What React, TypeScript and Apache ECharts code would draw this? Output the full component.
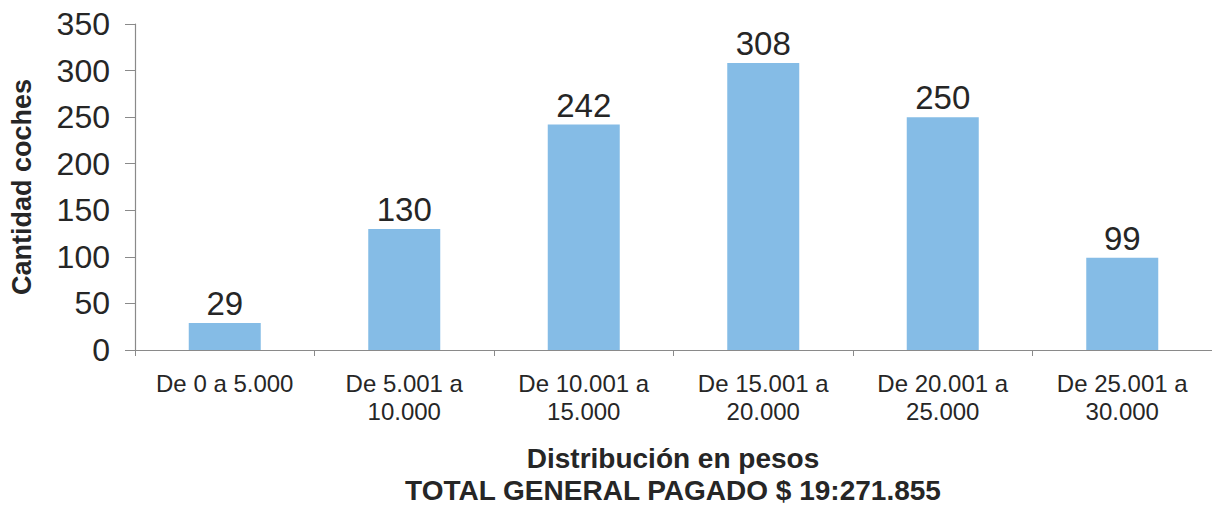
import React, { useEffect, useRef } from "react";
import * as echarts from "echarts";

const categories = [
  "De 0 a 5.000",
  "De 5.001 a\n10.000",
  "De 10.001 a\n15.000",
  "De 15.001 a\n20.000",
  "De 20.001 a\n25.000",
  "De 25.001 a\n30.000",
];
const values = [29, 130, 242, 308, 250, 99];
const yTitle = "Cantidad coches";
const xTitle = "Distribución en pesos";
const totalLine = "TOTAL GENERAL PAGADO $ 19:271.855";

const FONT = "'Liberation Sans', Arial, sans-serif";

export default function App() {
  const ref = useRef<HTMLDivElement>(null);
  useEffect(() => {
    if (!ref.current) return;
    const chart = echarts.init(ref.current, undefined, { renderer: "svg" });
    const cx = 673;
    chart.setOption({
      animation: false,
      backgroundColor: "#ffffff",
      textStyle: { fontFamily: FONT },
      grid: { left: 135, right: 0, top: 24, bottom: 167, containLabel: false },
      xAxis: {
        type: "category",
        data: categories,
        axisLine: { lineStyle: { color: "#8a8a8a", width: 1.2 } },
        axisTick: { show: true, length: 6, lineStyle: { color: "#8a8a8a" } },
        axisLabel: {
          color: "#262626",
          fontSize: 24,
          fontFamily: FONT,
          lineHeight: 28,
          margin: 19,
          interval: 0,
        },
      },
      yAxis: {
        type: "value",
        min: 0,
        max: 350,
        interval: 50,
        name: yTitle,
        nameLocation: "middle",
        nameGap: 100,
        nameTextStyle: {
          fontSize: 27,
          fontWeight: "bold",
          color: "#262626",
          fontFamily: FONT,
        },
        axisLine: { show: true, lineStyle: { color: "#8a8a8a", width: 1.2 } },
        axisTick: { show: true, length: 10, lineStyle: { color: "#8a8a8a" } },
        splitLine: { show: false },
        axisLabel: {
          color: "#262626",
          fontSize: 32,
          fontFamily: FONT,
          margin: 25,
        },
      },
      graphic: [
        {
          type: "text",
          x: cx,
          y: 444,
          style: {
            text: xTitle,
            fontSize: 28,
            fontWeight: "bold",
            fill: "#262626",
            fontFamily: FONT,
            align: "center",
            verticalAlign: "top",
          },
        },
        {
          type: "text",
          x: cx,
          y: 476,
          style: {
            text: totalLine,
            fontSize: 28,
            fontWeight: "bold",
            fill: "#262626",
            fontFamily: FONT,
            align: "center",
            verticalAlign: "top",
          },
        },
      ],
      series: [
        {
          type: "bar",
          data: values,
          barWidth: 72,
          itemStyle: { color: "#85bce6" },
          label: {
            show: true,
            position: "top",
            distance: 3,
            fontSize: 33,
            color: "#262626",
            fontFamily: FONT,
          },
        },
      ],
    });
    return () => chart.dispose();
  }, []);
  return (
    <div
      ref={ref}
      style={{ position: "fixed", left: 0, top: 0, width: 1212, height: 517 }}
    />
  );
}
